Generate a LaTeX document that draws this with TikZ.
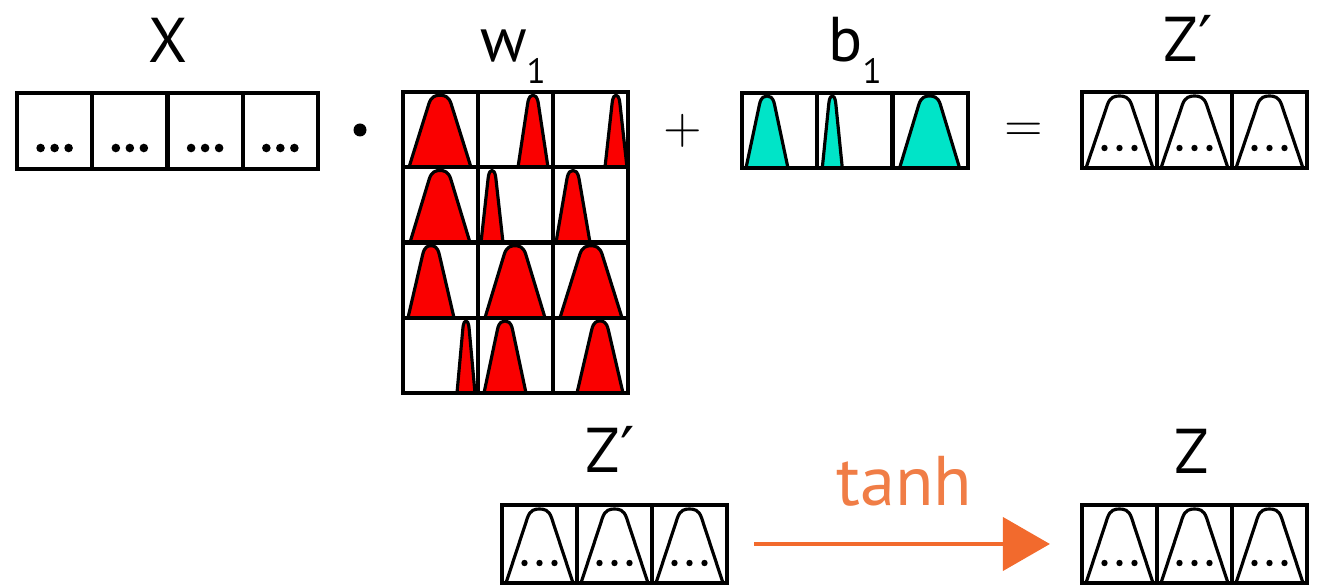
\documentclass[tikz,border=0pt]{standalone}
\usepackage{fontspec}
\setmainfont{PT Sans}
\newfontfamily\symfont{DejaVu Sans}
\usetikzlibrary{arrows.meta}
\definecolor{wred}{RGB}{250,0,0}
\definecolor{bcyan}{RGB}{0,228,200}
\definecolor{torange}{RGB}{242,106,45}
\definecolor{tlabel}{RGB}{240,125,70}
% bell outline path: #1 cx, #2 bottom y, #3 half width, #4 height
\newcommand{\tbellpath}[4]{({(#1)-(#3)},{#2}) -- ({(#1)-0.36*(#3)},{(#2)-0.88*(#4)}) .. controls ({(#1)-0.28*(#3)},{(#2)-0.99*(#4)}) and ({(#1)-0.13*(#3)},{(#2)-(#4)}) .. ({#1},{(#2)-(#4)}) .. controls ({(#1)+0.13*(#3)},{(#2)-(#4)}) and ({(#1)+0.28*(#3)},{(#2)-0.99*(#4)}) .. ({(#1)+0.36*(#3)},{(#2)-0.88*(#4)}) -- ({(#1)+(#3)},{#2})}
% filled bell: #1 cx, #2 bottom y, #3 half width, #4 height, #5 style
\newcommand{\gbell}[5]{\draw[#5] \tbellpath{#1}{#2}{#3}{#4} -- cycle;}
% Z box: #1 name, #2 left, #3 top, #4 height
\newcommand{\zbox}[4]{%
  \node[box, minimum width=2.25cm, minimum height={#4*0.01cm}] (#1) at ({#2+112.5},{#3+#4/2}) {};
  \foreach \i in {0,1,2}{
    \pgfmathsetmacro\cx{#2+\i*75+37.5}
    \draw[hbell] \tbellpath{\cx}{#3+#4}{33.5}{#4-4};
    \foreach \d in {-15,0,15} \fill ({\cx+\d},{#3+#4-20}) circle[radius=3.2];
  }
  \foreach \i in {1,2} \draw[cellline] ({#2+\i*75},#3) -- ({#2+\i*75},{#3+#4});
}
\begin{document}
\begin{tikzpicture}[x=0.01cm,y=-0.01cm,
  box/.style={draw,line width=1.2pt,inner sep=0pt,outer sep=0pt},
  cellline/.style={line width=1.2pt},
  hbell/.style={line width=0.9pt,line join=round},
  redbell/.style={fill=wred,draw=black,line width=0.9pt,line join=round},
  cyanbell/.style={fill=bcyan,draw=black,line width=0.9pt,line join=round},
  lbl/.style={font=\fontsize{18}{20}\selectfont,anchor=base,inner sep=0pt},
  op/.style={font=\fontsize{14}{16}\selectfont,anchor=center,inner sep=0pt},
  arr/.style={draw=torange,line width=1.2pt,-{Triangle[length=0.47cm,width=0.53cm]}}]
\useasboundingbox (0,0) rectangle (1329,585);

% ---- X ----
\node[lbl] (lX) at (168,63) {X};
\node[box, minimum width=3.01cm, minimum height=0.76cm] (X) at (167.5,131) {};
\foreach \i in {1,2,3} \draw[cellline] ({17+\i*75.25},93) -- ({17+\i*75.25},169);
\foreach \i in {0,1,2,3}
  \foreach \d in {-14,0,14}
    \fill ({17+\i*75.25+37.6+\d},148) circle[radius=4.3];

% dot product
\fill (360,130) circle[radius=6.5];

% ---- w1 ----
\node[lbl] (lw) at (513,62) {w\raisebox{-6pt}{\fontsize{10}{12}\selectfont 1}};
\foreach \c/\r/\cx/\hw in {1/1/37/31, 2/1/55/15, 3/1/63/11,
                           1/2/37/30, 2/2/14/11, 3/2/20/17,
                           1/3/28/23, 2/3/37/30, 3/3/38/31,
                           1/4/63/9,  2/4/27/21, 3/4/47/23}
  \gbell{403+(\c-1)*75+\cx}{92+\r*75.25}{\hw}{72}{redbell}
\node[box, minimum width=2.25cm, minimum height=3.01cm] (W) at (515.5,242.5) {};
\foreach \i in {1,2} \draw[cellline] ({403+\i*75},92) -- ({403+\i*75},393);
\foreach \i in {1,2,3} \draw[cellline] (403,{92+\i*75.25}) -- (628,{92+\i*75.25});

% plus
\node[op] (plus) at (683,131) {$+$};

% ---- b1 ----
\node[lbl] (lb) at (855,62) {b\raisebox{-6pt}{\fontsize{10}{12}\selectfont 1}};
\foreach \c/\cx/\hw in {1/25/21, 2/15/10, 3/37/30}
  \gbell{742+(\c-1)*75.3+\cx}{168}{\hw}{72}{cyanbell}
\node[box, minimum width=2.26cm, minimum height=0.75cm] (B) at (855,130.5) {};
\foreach \i in {1,2} \draw[cellline] ({742+\i*75.3},93) -- ({742+\i*75.3},168);

% equals
\node[op] (eq) at (1024,132) {$=$};

% ---- Z' top ----
\node[lbl] (lzp1) at (1188,62) {Z{\symfont ′}};
\zbox{zp1}{1082}{92}{76}

% ---- Z' bottom ----
\node[lbl] (lzp2) at (610,473) {Z{\symfont ′}};
\zbox{zp2}{502}{505}{78}

% ---- Z ----
\node[lbl] (lz) at (1192,474) {Z};
\zbox{z}{1082}{505}{78}

% ---- tanh arrow ----
\draw[arr, shorten <=27*0.01cm, shorten >=32*0.01cm] (zp2.east) -- (z.west)
  node[midway, above=0.36cm, text=tlabel, font=\fontsize{20}{22}\selectfont, inner sep=0pt] (tanh) {tanh};
\end{tikzpicture}
\end{document}
